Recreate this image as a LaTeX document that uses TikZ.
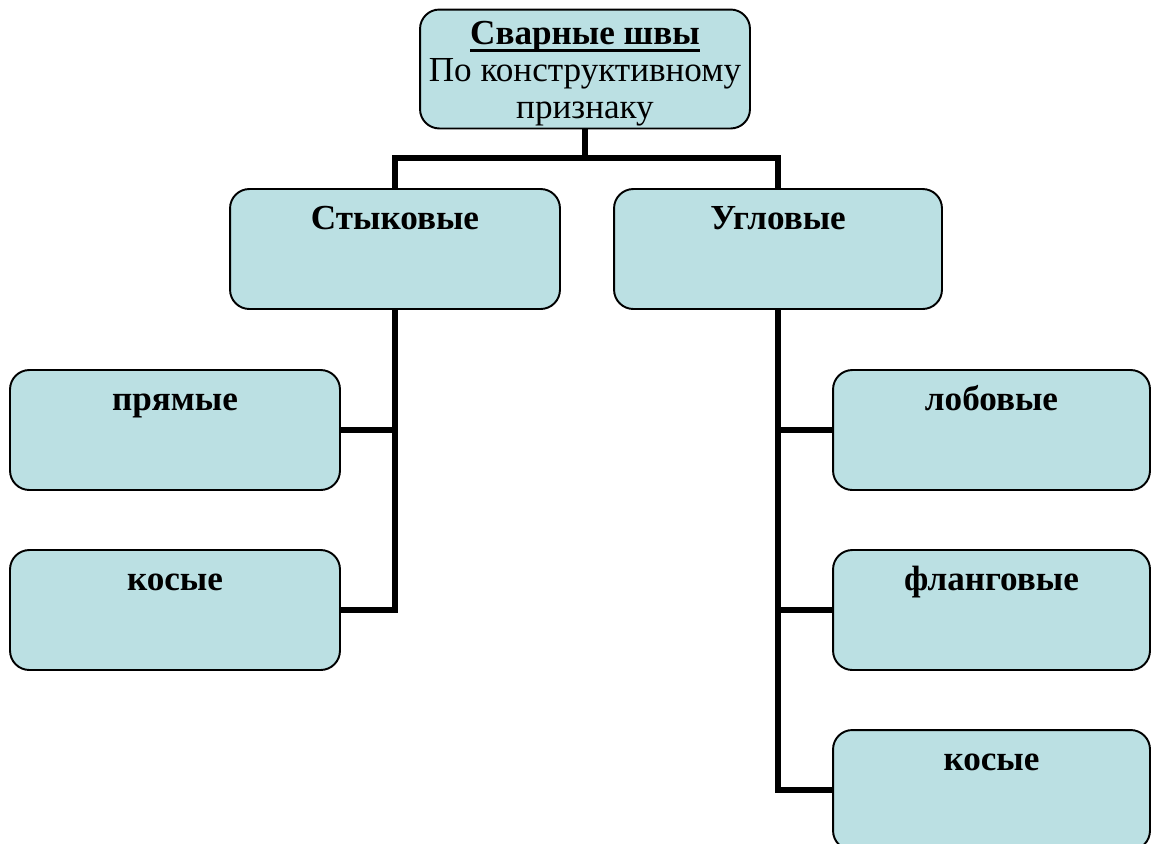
\documentclass[tikz,border=0pt]{standalone}
\usepackage{fontspec}
\setmainfont{Liberation Serif}
\definecolor{boxfill}{RGB}{187,224,227}
\newcommand{\ulbold}[1]{\setbox0\hbox{#1}\rlap{\vrule height -2.4pt depth 4pt width \wd0}\box0}
\tikzset{
  box/.style={draw, line width=1.1pt, fill=boxfill, rounded corners=11pt,
    inner sep=0pt, minimum width=6.6cm, minimum height=2.4cm,
    text height=22.7pt, text depth=45.3pt, align=center,
    font=\fontsize{20}{20}\selectfont\bfseries},
  conn/.style={line width=3pt},
}
\begin{document}
\begin{tikzpicture}[x=0.02cm, y=-0.02cm]
        \useasboundingbox (0,0) rectangle (1151,843);
        % boxes
        \node (svar) at (585, 69) [box, minimum height=2.36cm, text height=62pt, text depth=5.7pt, font=\fontsize{20}{21}\selectfont] {\textbf{\ulbold{Сварные швы}}\\По конструктивному\\признаку};
        \node (styk) at (395, 249) [box] {Стыковые};
        \node (ugl) at (778, 249) [box, minimum width=6.56cm] {Угловые};
        \node (pryam) at (175, 430) [box] {прямые};
        \node (kos1) at (175, 610) [box] {косые};
        \node (lob) at (991.5, 430) [box, minimum width=6.34cm] {лобовые};
        \node (flang) at (991.5, 610) [box, minimum width=6.34cm] {фланговые};
        \node (kos2) at (991.5, 790) [box, minimum width=6.34cm] {косые};
        % connectors
        \coordinate (fork) at (585, 158);
        \draw [conn] (svar.south) -- (fork);
        \draw [conn] (styk.north) |- (fork) -| (ugl.north);
        \draw [conn] (styk.south) |- (kos1.east);
        \draw [conn] (pryam.east) -- (pryam.east -| styk.south);
        \draw [conn] (ugl.south) |- (kos2.west);
        \draw [conn] (lob.west) -- (lob.west -| ugl.south);
        \draw [conn] (flang.west) -- (flang.west -| ugl.south);
    \end{tikzpicture}
\end{document}
